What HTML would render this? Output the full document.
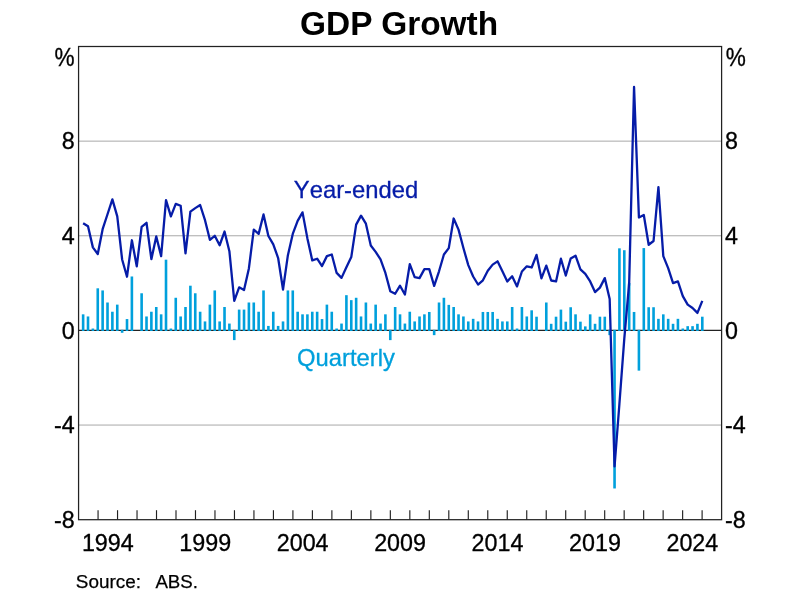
<!DOCTYPE html>
<html lang="en"><head><meta charset="utf-8"><title>GDP Growth</title>
<style>html,body{margin:0;padding:0;background:#fff}svg{display:block}</style></head>
<body>
<svg width="800" height="595" viewBox="0 0 800 595" font-family="'Liberation Sans', sans-serif">
<rect width="800" height="595" fill="#fff"/>
<line x1="78.57" x2="721.6" y1="141.14" y2="141.14" stroke="#a8a8a8" stroke-width="1"/>
<line x1="78.57" x2="721.6" y1="235.78" y2="235.78" stroke="#a8a8a8" stroke-width="1"/>
<line x1="78.57" x2="721.6" y1="425.06" y2="425.06" stroke="#a8a8a8" stroke-width="1"/>
<line x1="78.57" x2="721.6" y1="330.42" y2="330.42" stroke="#222" stroke-width="1.2"/>
<rect x="81.83" y="314.33" width="2.6" height="16.69" fill="#00A0DC"/>
<rect x="86.71" y="316.46" width="2.6" height="14.56" fill="#00A0DC"/>
<rect x="91.58" y="328.53" width="2.6" height="2.49" fill="#00A0DC"/>
<rect x="96.46" y="288.31" width="2.6" height="42.71" fill="#00A0DC"/>
<rect x="101.33" y="290.43" width="2.6" height="40.59" fill="#00A0DC"/>
<rect x="106.21" y="302.50" width="2.6" height="28.52" fill="#00A0DC"/>
<rect x="111.08" y="311.73" width="2.6" height="19.29" fill="#00A0DC"/>
<rect x="115.96" y="304.63" width="2.6" height="26.39" fill="#00A0DC"/>
<rect x="120.83" y="329.82" width="2.6" height="2.97" fill="#00A0DC"/>
<rect x="125.71" y="319.06" width="2.6" height="11.96" fill="#00A0DC"/>
<rect x="130.58" y="276.48" width="2.6" height="54.54" fill="#00A0DC"/>
<rect x="140.33" y="293.27" width="2.6" height="37.75" fill="#00A0DC"/>
<rect x="145.21" y="316.46" width="2.6" height="14.56" fill="#00A0DC"/>
<rect x="150.08" y="311.73" width="2.6" height="19.29" fill="#00A0DC"/>
<rect x="154.96" y="307.00" width="2.6" height="24.02" fill="#00A0DC"/>
<rect x="159.84" y="314.33" width="2.6" height="16.69" fill="#00A0DC"/>
<rect x="164.71" y="259.68" width="2.6" height="71.34" fill="#00A0DC"/>
<rect x="169.59" y="328.53" width="2.6" height="2.49" fill="#00A0DC"/>
<rect x="174.46" y="297.77" width="2.6" height="33.25" fill="#00A0DC"/>
<rect x="179.34" y="316.46" width="2.6" height="14.56" fill="#00A0DC"/>
<rect x="184.21" y="307.00" width="2.6" height="24.02" fill="#00A0DC"/>
<rect x="189.09" y="285.70" width="2.6" height="45.32" fill="#00A0DC"/>
<rect x="193.96" y="293.27" width="2.6" height="37.75" fill="#00A0DC"/>
<rect x="198.84" y="311.73" width="2.6" height="19.29" fill="#00A0DC"/>
<rect x="203.71" y="321.43" width="2.6" height="9.59" fill="#00A0DC"/>
<rect x="208.59" y="304.63" width="2.6" height="26.39" fill="#00A0DC"/>
<rect x="213.46" y="290.43" width="2.6" height="40.59" fill="#00A0DC"/>
<rect x="218.34" y="321.43" width="2.6" height="9.59" fill="#00A0DC"/>
<rect x="223.22" y="307.00" width="2.6" height="24.02" fill="#00A0DC"/>
<rect x="228.09" y="323.56" width="2.6" height="7.46" fill="#00A0DC"/>
<rect x="232.97" y="329.82" width="2.6" height="10.30" fill="#00A0DC"/>
<rect x="237.84" y="309.60" width="2.6" height="21.42" fill="#00A0DC"/>
<rect x="242.72" y="309.60" width="2.6" height="21.42" fill="#00A0DC"/>
<rect x="247.59" y="302.50" width="2.6" height="28.52" fill="#00A0DC"/>
<rect x="252.47" y="302.50" width="2.6" height="28.52" fill="#00A0DC"/>
<rect x="257.34" y="311.73" width="2.6" height="19.29" fill="#00A0DC"/>
<rect x="262.22" y="290.43" width="2.6" height="40.59" fill="#00A0DC"/>
<rect x="267.09" y="325.92" width="2.6" height="5.10" fill="#00A0DC"/>
<rect x="271.97" y="311.73" width="2.6" height="19.29" fill="#00A0DC"/>
<rect x="276.84" y="325.92" width="2.6" height="5.10" fill="#00A0DC"/>
<rect x="281.72" y="321.43" width="2.6" height="9.59" fill="#00A0DC"/>
<rect x="286.60" y="290.43" width="2.6" height="40.59" fill="#00A0DC"/>
<rect x="291.47" y="290.43" width="2.6" height="40.59" fill="#00A0DC"/>
<rect x="296.35" y="311.73" width="2.6" height="19.29" fill="#00A0DC"/>
<rect x="301.22" y="314.33" width="2.6" height="16.69" fill="#00A0DC"/>
<rect x="306.10" y="314.33" width="2.6" height="16.69" fill="#00A0DC"/>
<rect x="310.97" y="311.73" width="2.6" height="19.29" fill="#00A0DC"/>
<rect x="315.85" y="311.73" width="2.6" height="19.29" fill="#00A0DC"/>
<rect x="320.72" y="319.06" width="2.6" height="11.96" fill="#00A0DC"/>
<rect x="325.60" y="304.63" width="2.6" height="26.39" fill="#00A0DC"/>
<rect x="330.47" y="311.73" width="2.6" height="19.29" fill="#00A0DC"/>
<rect x="335.35" y="328.53" width="2.6" height="2.49" fill="#00A0DC"/>
<rect x="340.22" y="323.56" width="2.6" height="7.46" fill="#00A0DC"/>
<rect x="345.10" y="295.17" width="2.6" height="35.85" fill="#00A0DC"/>
<rect x="349.98" y="300.14" width="2.6" height="30.88" fill="#00A0DC"/>
<rect x="354.85" y="297.77" width="2.6" height="33.25" fill="#00A0DC"/>
<rect x="359.73" y="316.46" width="2.6" height="14.56" fill="#00A0DC"/>
<rect x="364.60" y="302.50" width="2.6" height="28.52" fill="#00A0DC"/>
<rect x="369.48" y="323.56" width="2.6" height="7.46" fill="#00A0DC"/>
<rect x="374.35" y="304.63" width="2.6" height="26.39" fill="#00A0DC"/>
<rect x="379.23" y="323.56" width="2.6" height="7.46" fill="#00A0DC"/>
<rect x="384.10" y="314.33" width="2.6" height="16.69" fill="#00A0DC"/>
<rect x="388.98" y="329.82" width="2.6" height="10.30" fill="#00A0DC"/>
<rect x="393.85" y="307.00" width="2.6" height="24.02" fill="#00A0DC"/>
<rect x="398.73" y="314.33" width="2.6" height="16.69" fill="#00A0DC"/>
<rect x="403.60" y="323.56" width="2.6" height="7.46" fill="#00A0DC"/>
<rect x="408.48" y="311.73" width="2.6" height="19.29" fill="#00A0DC"/>
<rect x="413.36" y="321.43" width="2.6" height="9.59" fill="#00A0DC"/>
<rect x="418.23" y="316.46" width="2.6" height="14.56" fill="#00A0DC"/>
<rect x="423.11" y="314.33" width="2.6" height="16.69" fill="#00A0DC"/>
<rect x="427.98" y="311.97" width="2.6" height="19.05" fill="#00A0DC"/>
<rect x="432.86" y="329.82" width="2.6" height="5.33" fill="#00A0DC"/>
<rect x="437.73" y="302.50" width="2.6" height="28.52" fill="#00A0DC"/>
<rect x="442.61" y="297.77" width="2.6" height="33.25" fill="#00A0DC"/>
<rect x="447.48" y="304.87" width="2.6" height="26.15" fill="#00A0DC"/>
<rect x="452.36" y="307.00" width="2.6" height="24.02" fill="#00A0DC"/>
<rect x="457.23" y="314.33" width="2.6" height="16.69" fill="#00A0DC"/>
<rect x="462.11" y="316.46" width="2.6" height="14.56" fill="#00A0DC"/>
<rect x="466.98" y="321.43" width="2.6" height="9.59" fill="#00A0DC"/>
<rect x="471.86" y="318.83" width="2.6" height="12.19" fill="#00A0DC"/>
<rect x="476.74" y="321.43" width="2.6" height="9.59" fill="#00A0DC"/>
<rect x="481.61" y="311.97" width="2.6" height="19.05" fill="#00A0DC"/>
<rect x="486.49" y="311.97" width="2.6" height="19.05" fill="#00A0DC"/>
<rect x="491.36" y="311.97" width="2.6" height="19.05" fill="#00A0DC"/>
<rect x="496.24" y="318.83" width="2.6" height="12.19" fill="#00A0DC"/>
<rect x="501.11" y="321.43" width="2.6" height="9.59" fill="#00A0DC"/>
<rect x="505.99" y="321.43" width="2.6" height="9.59" fill="#00A0DC"/>
<rect x="510.86" y="307.00" width="2.6" height="24.02" fill="#00A0DC"/>
<rect x="515.74" y="328.53" width="2.6" height="2.49" fill="#00A0DC"/>
<rect x="520.61" y="307.00" width="2.6" height="24.02" fill="#00A0DC"/>
<rect x="525.49" y="316.46" width="2.6" height="14.56" fill="#00A0DC"/>
<rect x="530.36" y="310.31" width="2.6" height="20.71" fill="#00A0DC"/>
<rect x="535.24" y="316.70" width="2.6" height="14.32" fill="#00A0DC"/>
<rect x="544.99" y="302.50" width="2.6" height="28.52" fill="#00A0DC"/>
<rect x="549.87" y="323.80" width="2.6" height="7.22" fill="#00A0DC"/>
<rect x="554.74" y="316.70" width="2.6" height="14.32" fill="#00A0DC"/>
<rect x="559.62" y="309.60" width="2.6" height="21.42" fill="#00A0DC"/>
<rect x="564.49" y="321.67" width="2.6" height="9.35" fill="#00A0DC"/>
<rect x="569.37" y="307.23" width="2.6" height="23.79" fill="#00A0DC"/>
<rect x="574.24" y="314.33" width="2.6" height="16.69" fill="#00A0DC"/>
<rect x="579.12" y="321.67" width="2.6" height="9.35" fill="#00A0DC"/>
<rect x="583.99" y="326.40" width="2.6" height="4.62" fill="#00A0DC"/>
<rect x="588.87" y="314.33" width="2.6" height="16.69" fill="#00A0DC"/>
<rect x="593.74" y="323.80" width="2.6" height="7.22" fill="#00A0DC"/>
<rect x="598.62" y="316.70" width="2.6" height="14.32" fill="#00A0DC"/>
<rect x="603.49" y="316.70" width="2.6" height="14.32" fill="#00A0DC"/>
<rect x="608.37" y="329.82" width="2.6" height="5.33" fill="#00A0DC"/>
<rect x="613.25" y="329.82" width="2.6" height="158.65" fill="#00A0DC"/>
<rect x="618.12" y="248.32" width="2.6" height="82.70" fill="#00A0DC"/>
<rect x="623.00" y="250.21" width="2.6" height="80.81" fill="#00A0DC"/>
<rect x="627.87" y="283.10" width="2.6" height="47.92" fill="#00A0DC"/>
<rect x="632.75" y="311.97" width="2.6" height="19.05" fill="#00A0DC"/>
<rect x="637.62" y="329.82" width="2.6" height="40.82" fill="#00A0DC"/>
<rect x="642.50" y="248.08" width="2.6" height="82.94" fill="#00A0DC"/>
<rect x="647.37" y="307.23" width="2.6" height="23.79" fill="#00A0DC"/>
<rect x="652.25" y="307.23" width="2.6" height="23.79" fill="#00A0DC"/>
<rect x="657.12" y="318.83" width="2.6" height="12.19" fill="#00A0DC"/>
<rect x="662.00" y="314.33" width="2.6" height="16.69" fill="#00A0DC"/>
<rect x="666.87" y="318.83" width="2.6" height="12.19" fill="#00A0DC"/>
<rect x="671.75" y="323.80" width="2.6" height="7.22" fill="#00A0DC"/>
<rect x="676.63" y="318.83" width="2.6" height="12.19" fill="#00A0DC"/>
<rect x="681.50" y="328.53" width="2.6" height="2.49" fill="#00A0DC"/>
<rect x="686.38" y="326.16" width="2.6" height="4.86" fill="#00A0DC"/>
<rect x="691.25" y="326.16" width="2.6" height="4.86" fill="#00A0DC"/>
<rect x="696.13" y="323.80" width="2.6" height="7.22" fill="#00A0DC"/>
<rect x="701.00" y="316.70" width="2.6" height="14.32" fill="#00A0DC"/>
<polyline points="83.13,223.24 88.01,226.32 92.88,247.37 97.76,254.00 102.63,229.16 107.51,214.25 112.38,199.34 117.26,216.38 122.13,259.44 127.01,276.71 131.88,240.28 136.76,266.30 141.63,226.79 146.51,222.77 151.38,259.20 156.26,236.49 161.14,256.13 166.01,200.05 170.89,216.38 175.76,203.84 180.64,205.73 185.51,253.29 190.39,211.65 195.26,208.10 200.14,205.02 205.01,220.16 209.89,239.80 214.76,235.78 219.64,245.24 224.52,231.52 229.39,251.16 234.27,300.85 239.14,287.36 244.02,289.96 248.89,268.43 253.77,229.63 258.64,233.89 263.52,214.49 268.39,236.02 273.27,244.30 278.14,258.02 283.02,289.49 287.90,255.18 292.77,233.89 297.65,220.87 302.52,212.36 307.40,238.38 312.27,260.39 317.15,258.73 322.02,266.06 326.90,256.13 331.77,254.47 336.65,272.93 341.52,277.89 346.40,267.25 351.28,257.07 356.15,224.66 361.03,215.67 365.90,223.71 370.78,245.48 375.65,251.87 380.53,259.44 385.40,272.93 390.28,291.14 395.15,293.75 400.03,285.70 404.90,294.46 409.78,264.17 414.66,277.19 419.53,278.13 424.41,269.14 429.28,269.14 434.16,285.94 439.03,271.27 443.91,254.47 448.78,248.08 453.66,218.51 458.53,229.63 463.41,248.08 468.28,265.12 473.16,276.48 478.04,284.52 482.91,280.26 487.79,270.80 492.66,264.65 497.54,261.33 502.41,271.27 507.29,281.44 512.16,276.24 517.04,286.41 521.91,271.51 526.79,266.30 531.66,267.48 536.54,254.94 541.42,278.37 546.29,265.59 551.17,280.50 556.04,281.44 560.92,258.73 565.79,275.53 570.67,258.49 575.54,255.65 580.42,269.38 585.29,273.87 590.17,281.44 595.04,292.09 599.92,287.60 604.79,278.13 609.67,298.95 614.55,466.47 619.42,403.77 624.30,338.70 629.17,283.10 634.05,86.96 638.92,217.56 643.80,214.96 648.67,244.77 653.55,240.99 658.42,187.04 663.30,256.13 668.17,268.19 673.05,283.10 677.93,281.44 682.80,296.11 687.68,304.63 692.55,307.94 697.43,312.91 702.30,300.85" fill="none" stroke="#061CA8" stroke-width="2.3" stroke-linejoin="round"/>
<line x1="98.06" x2="98.06" y1="510.20" y2="519.7" stroke="#222" stroke-width="1.15"/>
<line x1="117.54" x2="117.54" y1="510.20" y2="519.7" stroke="#222" stroke-width="1.15"/>
<line x1="137.03" x2="137.03" y1="510.20" y2="519.7" stroke="#222" stroke-width="1.15"/>
<line x1="156.51" x2="156.51" y1="510.20" y2="519.7" stroke="#222" stroke-width="1.15"/>
<line x1="176.00" x2="176.00" y1="510.20" y2="519.7" stroke="#222" stroke-width="1.15"/>
<line x1="195.48" x2="195.48" y1="510.20" y2="519.7" stroke="#222" stroke-width="1.15"/>
<line x1="214.97" x2="214.97" y1="510.20" y2="519.7" stroke="#222" stroke-width="1.15"/>
<line x1="234.46" x2="234.46" y1="510.20" y2="519.7" stroke="#222" stroke-width="1.15"/>
<line x1="253.94" x2="253.94" y1="510.20" y2="519.7" stroke="#222" stroke-width="1.15"/>
<line x1="273.43" x2="273.43" y1="510.20" y2="519.7" stroke="#222" stroke-width="1.15"/>
<line x1="292.91" x2="292.91" y1="510.20" y2="519.7" stroke="#222" stroke-width="1.15"/>
<line x1="312.40" x2="312.40" y1="510.20" y2="519.7" stroke="#222" stroke-width="1.15"/>
<line x1="331.88" x2="331.88" y1="510.20" y2="519.7" stroke="#222" stroke-width="1.15"/>
<line x1="351.37" x2="351.37" y1="510.20" y2="519.7" stroke="#222" stroke-width="1.15"/>
<line x1="370.86" x2="370.86" y1="510.20" y2="519.7" stroke="#222" stroke-width="1.15"/>
<line x1="390.34" x2="390.34" y1="510.20" y2="519.7" stroke="#222" stroke-width="1.15"/>
<line x1="409.83" x2="409.83" y1="510.20" y2="519.7" stroke="#222" stroke-width="1.15"/>
<line x1="429.31" x2="429.31" y1="510.20" y2="519.7" stroke="#222" stroke-width="1.15"/>
<line x1="448.80" x2="448.80" y1="510.20" y2="519.7" stroke="#222" stroke-width="1.15"/>
<line x1="468.29" x2="468.29" y1="510.20" y2="519.7" stroke="#222" stroke-width="1.15"/>
<line x1="487.77" x2="487.77" y1="510.20" y2="519.7" stroke="#222" stroke-width="1.15"/>
<line x1="507.26" x2="507.26" y1="510.20" y2="519.7" stroke="#222" stroke-width="1.15"/>
<line x1="526.74" x2="526.74" y1="510.20" y2="519.7" stroke="#222" stroke-width="1.15"/>
<line x1="546.23" x2="546.23" y1="510.20" y2="519.7" stroke="#222" stroke-width="1.15"/>
<line x1="565.71" x2="565.71" y1="510.20" y2="519.7" stroke="#222" stroke-width="1.15"/>
<line x1="585.20" x2="585.20" y1="510.20" y2="519.7" stroke="#222" stroke-width="1.15"/>
<line x1="604.69" x2="604.69" y1="510.20" y2="519.7" stroke="#222" stroke-width="1.15"/>
<line x1="624.17" x2="624.17" y1="510.20" y2="519.7" stroke="#222" stroke-width="1.15"/>
<line x1="643.66" x2="643.66" y1="510.20" y2="519.7" stroke="#222" stroke-width="1.15"/>
<line x1="663.14" x2="663.14" y1="510.20" y2="519.7" stroke="#222" stroke-width="1.15"/>
<line x1="682.63" x2="682.63" y1="510.20" y2="519.7" stroke="#222" stroke-width="1.15"/>
<line x1="702.11" x2="702.11" y1="510.20" y2="519.7" stroke="#222" stroke-width="1.15"/>
<rect x="78.57" y="46.5" width="643.03" height="473.20" fill="none" stroke="#222" stroke-width="1.25"/>
<text x="74.70" y="149.29" font-size="23.3" stroke="#000" stroke-width="0.3" text-anchor="end">8</text>
<text x="725.00" y="149.29" font-size="23.3" stroke="#000" stroke-width="0.3" text-anchor="start">8</text>
<text x="74.70" y="243.93" font-size="23.3" stroke="#000" stroke-width="0.3" text-anchor="end">4</text>
<text x="725.00" y="243.93" font-size="23.3" stroke="#000" stroke-width="0.3" text-anchor="start">4</text>
<text x="74.70" y="338.57" font-size="23.3" stroke="#000" stroke-width="0.3" text-anchor="end">0</text>
<text x="725.00" y="338.57" font-size="23.3" stroke="#000" stroke-width="0.3" text-anchor="start">0</text>
<text x="74.70" y="433.21" font-size="23.3" stroke="#000" stroke-width="0.3" text-anchor="end">-4</text>
<text x="725.00" y="433.21" font-size="23.3" stroke="#000" stroke-width="0.3" text-anchor="start">-4</text>
<text x="74.70" y="527.85" font-size="23.3" stroke="#000" stroke-width="0.3" text-anchor="end">-8</text>
<text x="725.00" y="527.85" font-size="23.3" stroke="#000" stroke-width="0.3" text-anchor="start">-8</text>
<text transform="translate(74.70,66.0) scale(0.97,1.10)" font-size="23.3" stroke="#000" stroke-width="0.3" text-anchor="end">%</text>
<text transform="translate(725.70,66.0) scale(0.97,1.10)" font-size="23.3" stroke="#000" stroke-width="0.3" text-anchor="start">%</text>
<text x="107.80" y="550.5" font-size="23.3" stroke="#000" stroke-width="0.3" text-anchor="middle">1994</text>
<text x="205.23" y="550.5" font-size="23.3" stroke="#000" stroke-width="0.3" text-anchor="middle">1999</text>
<text x="302.66" y="550.5" font-size="23.3" stroke="#000" stroke-width="0.3" text-anchor="middle">2004</text>
<text x="400.08" y="550.5" font-size="23.3" stroke="#000" stroke-width="0.3" text-anchor="middle">2009</text>
<text x="497.51" y="550.5" font-size="23.3" stroke="#000" stroke-width="0.3" text-anchor="middle">2014</text>
<text x="594.94" y="550.5" font-size="23.3" stroke="#000" stroke-width="0.3" text-anchor="middle">2019</text>
<text x="692.37" y="550.5" font-size="23.3" stroke="#000" stroke-width="0.3" text-anchor="middle">2024</text>
<text transform="translate(399.1,34.7) scale(1.02,1)" x="0" y="0" font-size="32.8" font-weight="bold" text-anchor="middle">GDP Growth</text>
<text x="293.8" y="197.8" font-size="23.8" fill="#061CA8" stroke="#061CA8" stroke-width="0.3" style="font-kerning:none">Year-ended</text>
<text x="297.0" y="365.5" font-size="23.8" fill="#00A0DC" stroke="#00A0DC" stroke-width="0.3" style="font-kerning:none">Quarterly</text>
<text x="75.8" y="588" font-size="18.9" stroke="#000" stroke-width="0.25">Source:</text>
<text x="155.4" y="588" font-size="18.7" stroke="#000" stroke-width="0.25">ABS.</text>
</svg>
</body></html>
